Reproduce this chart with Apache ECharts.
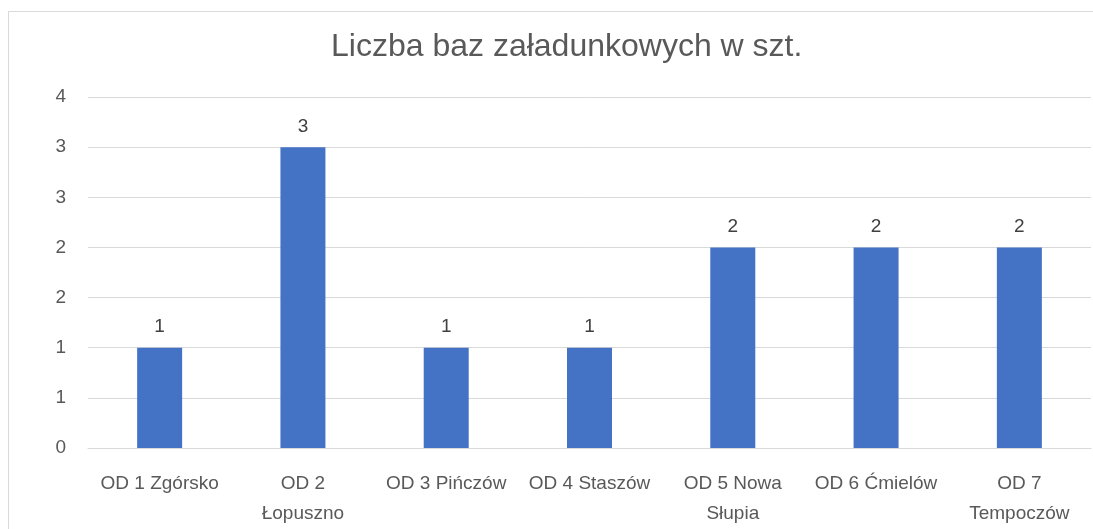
<!DOCTYPE html>
<html>
<head>
<meta charset="utf-8">
<script src="https://cdn.jsdelivr.net/npm/echarts@6/dist/echarts.min.js"></script>
<style>
  html, body { margin: 0; padding: 0; background: #fff; }
  #frame { position: absolute; left: 8px; top: 11px; width: 1100px; height: 530px; border: 1px solid #d9d9d9; box-sizing: border-box; }
  #chart { position: absolute; left: 0; top: 0; width: 1093px; height: 529px; }
</style>
</head>
<body>
<div id="frame"></div>
<div id="chart"></div>
<script>
const chartTitle = 'Liczba baz załadunkowych w szt.'
const categories = ['OD 1 Zgórsko', 'OD 2 Łopuszno', 'OD 3 Pińczów', 'OD 4 Staszów', 'OD 5 Nowa Słupia', 'OD 6 Ćmielów', 'OD 7 Tempoczów']
const values = [1, 3, 1, 1, 2, 2, 2]
const yMin = 0
const yMax = 3.5
const yStep = 0.5

const font = '"Liberation Sans", Arial, sans-serif'
const labelSize = 19

// word wrap by measured width, like Excel does for category labels
const ctx = document.createElement('canvas').getContext('2d')
ctx.font = `${labelSize}px ${font}`
function wrap(text, maxW) {
  const lines = []
  let cur = ''
  for (const w of text.split(' ')) {
    const t = cur ? cur + ' ' + w : w
    if (cur && ctx.measureText(t).width > maxW) {
      lines.push(cur)
      cur = w
    } else {
      cur = t
    }
  }
  lines.push(cur)
  return lines.join('\n')
}

const chart = echarts.init(document.getElementById('chart'))
chart.setOption({
  animation: false,
  title: {
    text: chartTitle,
    left: 326,
    top: 26,
    textStyle: { fontFamily: font, fontSize: 32, fontWeight: 'normal', color: '#595959' },
  },
  grid: { left: 88, right: 2, top: 97, bottom: 78 },
  xAxis: {
    type: 'category',
    data: categories,
    axisLine: { lineStyle: { color: '#d9d9d9' } },
    axisTick: { show: false },
    axisLabel: {
      interval: 0,
      margin: 21,
      lineHeight: 30,
      fontFamily: font,
      fontSize: labelSize,
      color: '#595959',
      formatter: v => wrap(v, 126),
    },
  },
  yAxis: {
    type: 'value',
    min: yMin,
    max: yMax,
    interval: yStep,
    axisLine: { show: false },
    axisTick: { show: false },
    splitLine: { lineStyle: { color: '#d9d9d9', width: 1 } },
    axisLabel: {
      margin: 22,
      fontFamily: font,
      fontSize: labelSize,
      color: '#595959',
      formatter: v => String(Math.round(v)),
    },
  },
  series: [{
    type: 'bar',
    data: values,
    barWidth: 45,
    itemStyle: { color: '#4472C4' },
    label: {
      show: true,
      position: 'top',
      distance: 11,
      fontFamily: font,
      fontSize: labelSize,
      color: '#404040',
    },
  }],
})
</script>
</body>
</html>
